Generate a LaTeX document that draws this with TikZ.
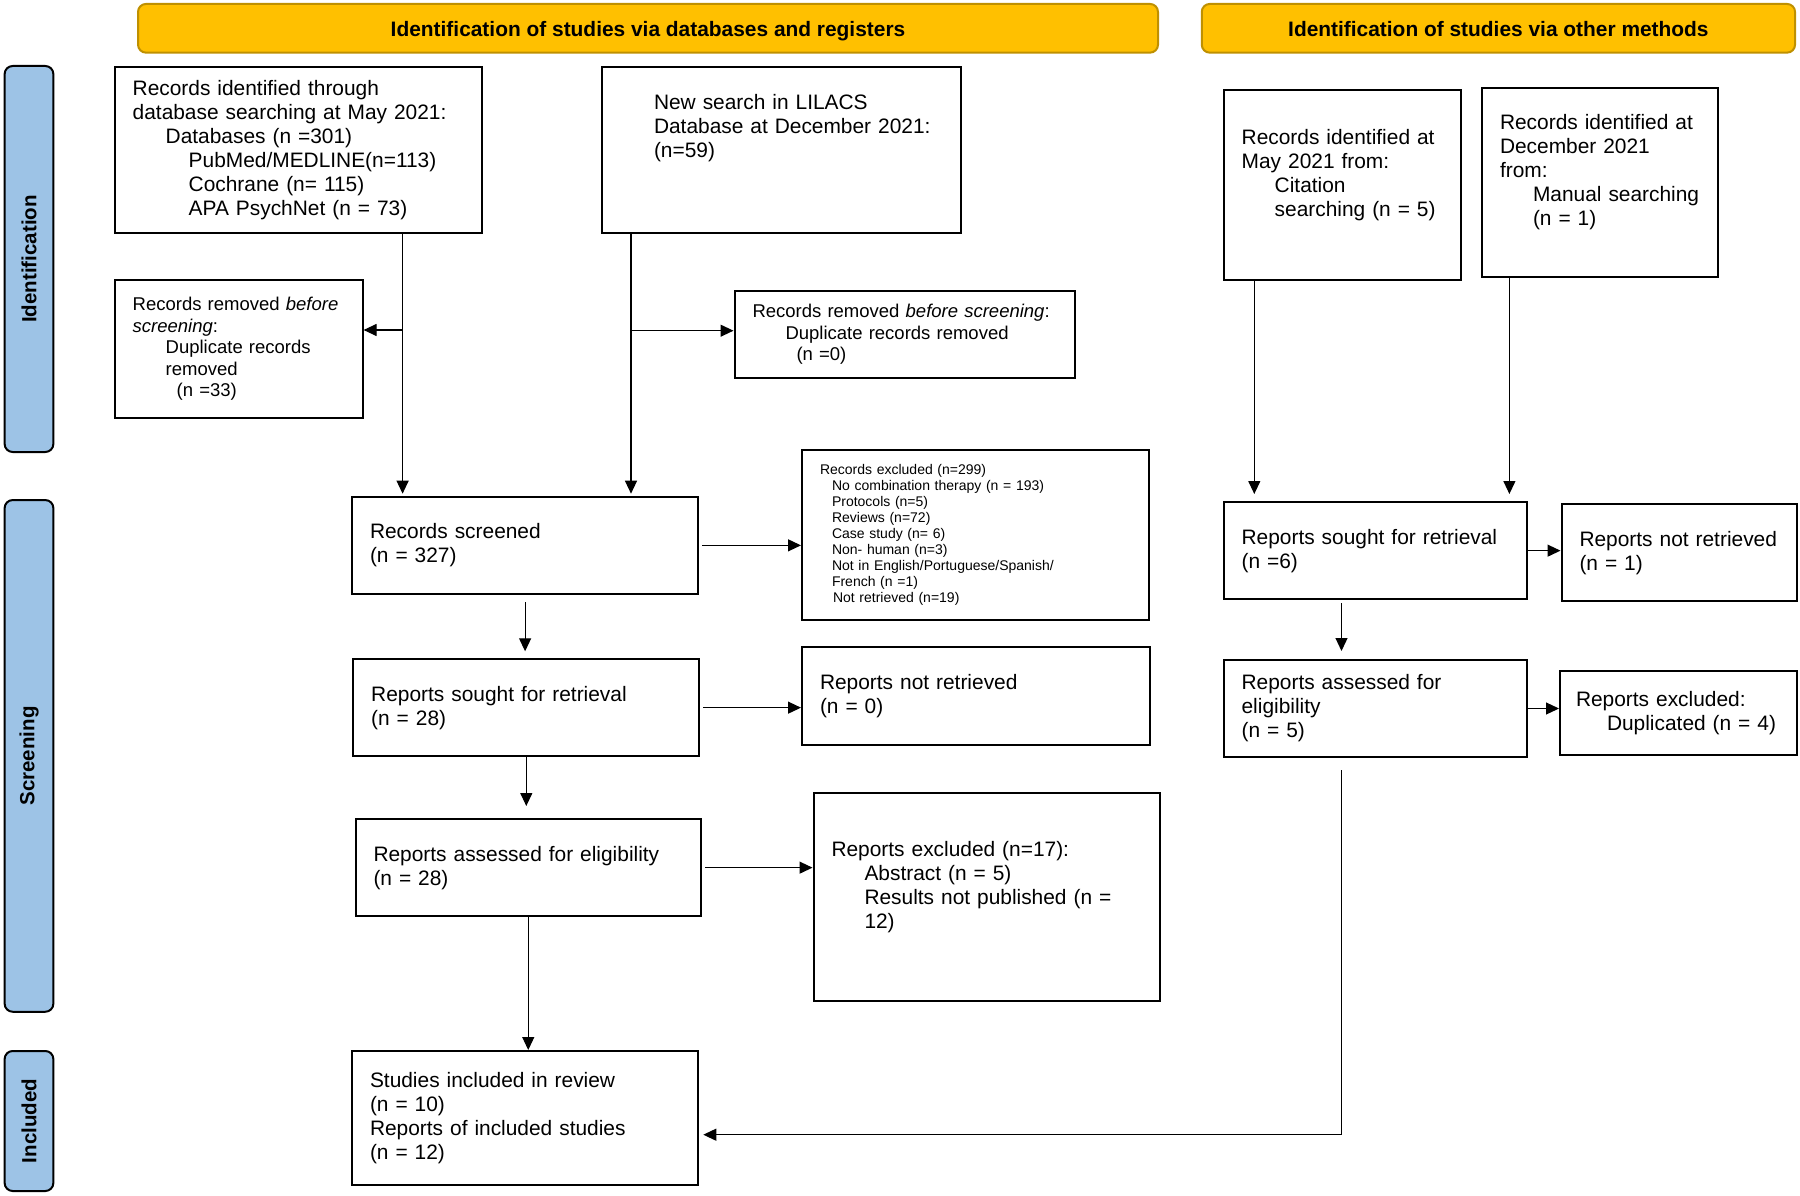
\documentclass[tikz,border=0pt]{standalone}
\usepackage{fontspec}
\setmainfont{Liberation Sans}
\usetikzlibrary{arrows.meta}

\definecolor{hdrgold}{HTML}{FFC000}
\definecolor{hdredge}{HTML}{BF9000}
\definecolor{sideblue}{HTML}{9DC3E6}

\tikzset{
  box/.style={draw, line width=2pt, anchor=north west, inner xsep=18pt, inner ysep=0pt,
    align=left, font=\fontsize{20.9}{24}\selectfont},
  smallbox/.style={box, font=\fontsize{14}{16}\selectfont},
  removedbox/.style={box, font=\fontsize{18.5}{21.5}\selectfont},
  header/.style={draw=hdredge, fill=hdrgold, line width=2pt, rounded corners=8pt,
    text height=20pt, text depth=4pt, font=\bfseries\fontsize{20.9}{24}\selectfont},
  side/.style={draw, fill=sideblue, line width=2pt, rounded corners=8pt, rotate=90,
    font=\bfseries\fontsize{20.5}{24}\selectfont},
  arr/.style={line width=1.2pt, -{Triangle[length=13pt,width=12pt]}},
}

\begin{document}
\begin{tikzpicture}[x=1pt, y=-1pt]
    \useasboundingbox (0,0) rectangle (1800,1196);

    % Headers
    \node[header, minimum width=1020pt, minimum height=48.7pt] (hdrdb) at (648,28.3) {Identification of studies via databases and registers};
    \node[header, minimum width=593.3pt, minimum height=48.7pt] (hdrother) at (1498.4,28.3) {Identification of studies via other methods};

    % Phase labels
    \node[side, minimum width=386pt, minimum height=48.7pt] (sideid) at (29,259) {Identification};
    \node[side, minimum width=511.7pt, minimum height=48.7pt] (sidescr) at (29,755.9) {Screening};
    \node[side, minimum width=140pt, minimum height=48.7pt] (sideinc) at (29,1121) {Included};

    % Identification
    \node[box, minimum width=367.3pt, minimum height=166.3pt, text width=331.3pt] (db) at (113.7,66)
      {Records identified through\\database searching at May 2021:\\\hspace*{33pt}Databases (n =301)\\\hspace*{56pt}PubMed/MEDLINE(n=113)\\\hspace*{56pt}Cochrane (n= 115)\\\hspace*{56pt}APA PsychNet (n = 73)};
    \node[box, minimum width=359.4pt, minimum height=166.3pt, text width=323.4pt] (lilacs) at (601,66)
      {\hspace*{34pt}New search in LILACS\\\hspace*{34pt}Database at December 2021:\\\hspace*{34pt}(n=59)\\ \mbox{}\\ \mbox{}};
    \node[removedbox, minimum width=247.9pt, minimum height=138.3pt, text width=211.9pt] (rem1) at (113.7,278.7)
      {Records removed \textit{before}\\\textit{screening}:\\\hspace*{33pt}Duplicate records\\\hspace*{33pt}removed\\\hspace*{44pt}(n =33)};
    \node[removedbox, minimum width=340.2pt, minimum height=86.4pt, text width=304.2pt] (rem2) at (733.5,290.3)
      {Records removed \textit{before screening}:\\\hspace*{33pt}Duplicate records removed\\\hspace*{44pt}(n =0)};
    \node[box, minimum width=236.9pt, minimum height=190pt, text width=200.9pt] (cit) at (1222.7,89.3)
      {Records identified at\\May 2021 from:\\\hspace*{33pt}Citation\\\hspace*{33pt}searching (n = 5)\\ \mbox{}};
    \node[box, minimum width=236.4pt, minimum height=189.3pt, text width=200.4pt] (manual) at (1481,86.7)
      {Records identified at\\December 2021\\from:\\\hspace*{33pt}Manual searching\\\hspace*{33pt}(n = 1)\\ \mbox{}};

    % Screening
    \node[box, minimum width=346.2pt, minimum height=97.3pt, text width=310.2pt] (screened) at (351,495.7)
      {Records screened\\(n = 327)};
    \node[smallbox, minimum width=347pt, minimum height=170pt, text width=311pt] (recexcl) at (801,449)
      {Records excluded (n=299)\\\hspace*{12pt}No combination therapy (n = 193)\\\hspace*{12pt}Protocols (n=5)\\\hspace*{12pt}Reviews (n=72)\\\hspace*{12pt}Case study (n= 6)\\\hspace*{12pt}Non- human (n=3)\\\hspace*{12pt}Not in English/Portuguese/Spanish/\\\hspace*{12pt}French (n =1)\\\hspace*{13pt}Not retrieved (n=19)};
    \node[box, minimum width=346.2pt, minimum height=96.7pt, text width=310.2pt] (sought) at (352.2,658.3)
      {Reports sought for retrieval\\(n = 28)};
    \node[box, minimum width=347.5pt, minimum height=97.4pt, text width=311.5pt] (notretr) at (801,646.3)
      {Reports not retrieved\\(n = 0)};
    \node[box, minimum width=345.5pt, minimum height=97.3pt, text width=309.5pt] (assessed) at (354.5,818)
      {Reports assessed for eligibility\\(n = 28)};
    \node[box, minimum width=346.5pt, minimum height=208pt, text width=310.5pt] (repexcl) at (812.5,792)
      {Reports excluded (n=17):\\\hspace*{33pt}Abstract (n = 5)\\\hspace*{33pt}Results not published (n =\\\hspace*{33pt}12)\\ \mbox{}};
    \node[box, minimum width=303.1pt, minimum height=97.3pt, text width=267.1pt] (sought2) at (1222.6,501)
      {Reports sought for retrieval\\(n =6)};
    \node[box, minimum width=235.4pt, minimum height=96.7pt, text width=199.4pt] (notretr2) at (1560.5,503.3)
      {Reports not retrieved\\(n = 1)};
    \node[box, minimum width=303.1pt, minimum height=97pt, text width=267.1pt] (assessed2) at (1222.6,659)
      {Reports assessed for\\eligibility\\(n = 5)};
    \node[box, inner xsep=16pt, minimum width=236.9pt, minimum height=84pt, text width=204.9pt] (dupexcl) at (1559,670)
      {Reports excluded:\\\hspace*{31pt}Duplicated (n = 4)};

    % Included
    \node[box, minimum width=346.3pt, minimum height=134pt, text width=310.3pt] (included) at (351,1050)
      {Studies included in review\\(n = 10)\\Reports of included studies\\(n = 12)};

    % Junctions
    \coordinate (jdb) at (402.6,330);
    \coordinate (jlil) at (631,330.7);
    \coordinate (xcit) at (1254.3,0);
    \coordinate (xman) at (1509.4,0);
    \coordinate (xoth) at (1341.5,0);
    \coordinate (yinc) at (0,1134.7);

    % Arrows
    \draw[arr, shorten >=2pt] (db.south -| jdb) -- (screened.north -| jdb);
    \draw[arr] (jdb) -- (jdb -| rem1.east);
    \draw[arr, shorten >=2pt] (lilacs.south -| jlil) -- (screened.north -| jlil);
    \draw[arr] (jlil) -- (jlil -| rem2.west);
    \draw[arr, shorten <=3pt] (screened.east) -- (screened.east -| recexcl.west);
    \draw[arr, shorten <=7pt, shorten >=7pt] (screened.south) -- (screened.south |- sought.north);
    \draw[arr, shorten <=3pt] (sought.east) -- (sought.east -| notretr.west);
    \draw[arr, shorten >=12pt] (sought.south) -- (sought.south |- assessed.north);
    \draw[arr, shorten <=3pt] (assessed.east) -- (assessed.east -| repexcl.west);
    \draw[arr] (assessed.south) -- (assessed.south |- included.north);
    \draw[arr, shorten >=7pt] (cit.south -| xcit) -- (sought2.north -| xcit);
    \draw[arr, shorten >=7pt] (manual.south -| xman) -- (sought2.north -| xman);
    \draw[arr] (sought2.east) -- (sought2.east -| notretr2.west);
    \draw[arr, shorten <=3pt, shorten >=8pt] (sought2.south -| xoth) -- (assessed2.north -| xoth);
    \draw[arr] (assessed2.east) -- (assessed2.east -| dupexcl.west);
    \draw[arr, shorten <=12pt, shorten >=4pt] (assessed2.south -| xoth) |- (included.east |- yinc);
\end{tikzpicture}
\end{document}
